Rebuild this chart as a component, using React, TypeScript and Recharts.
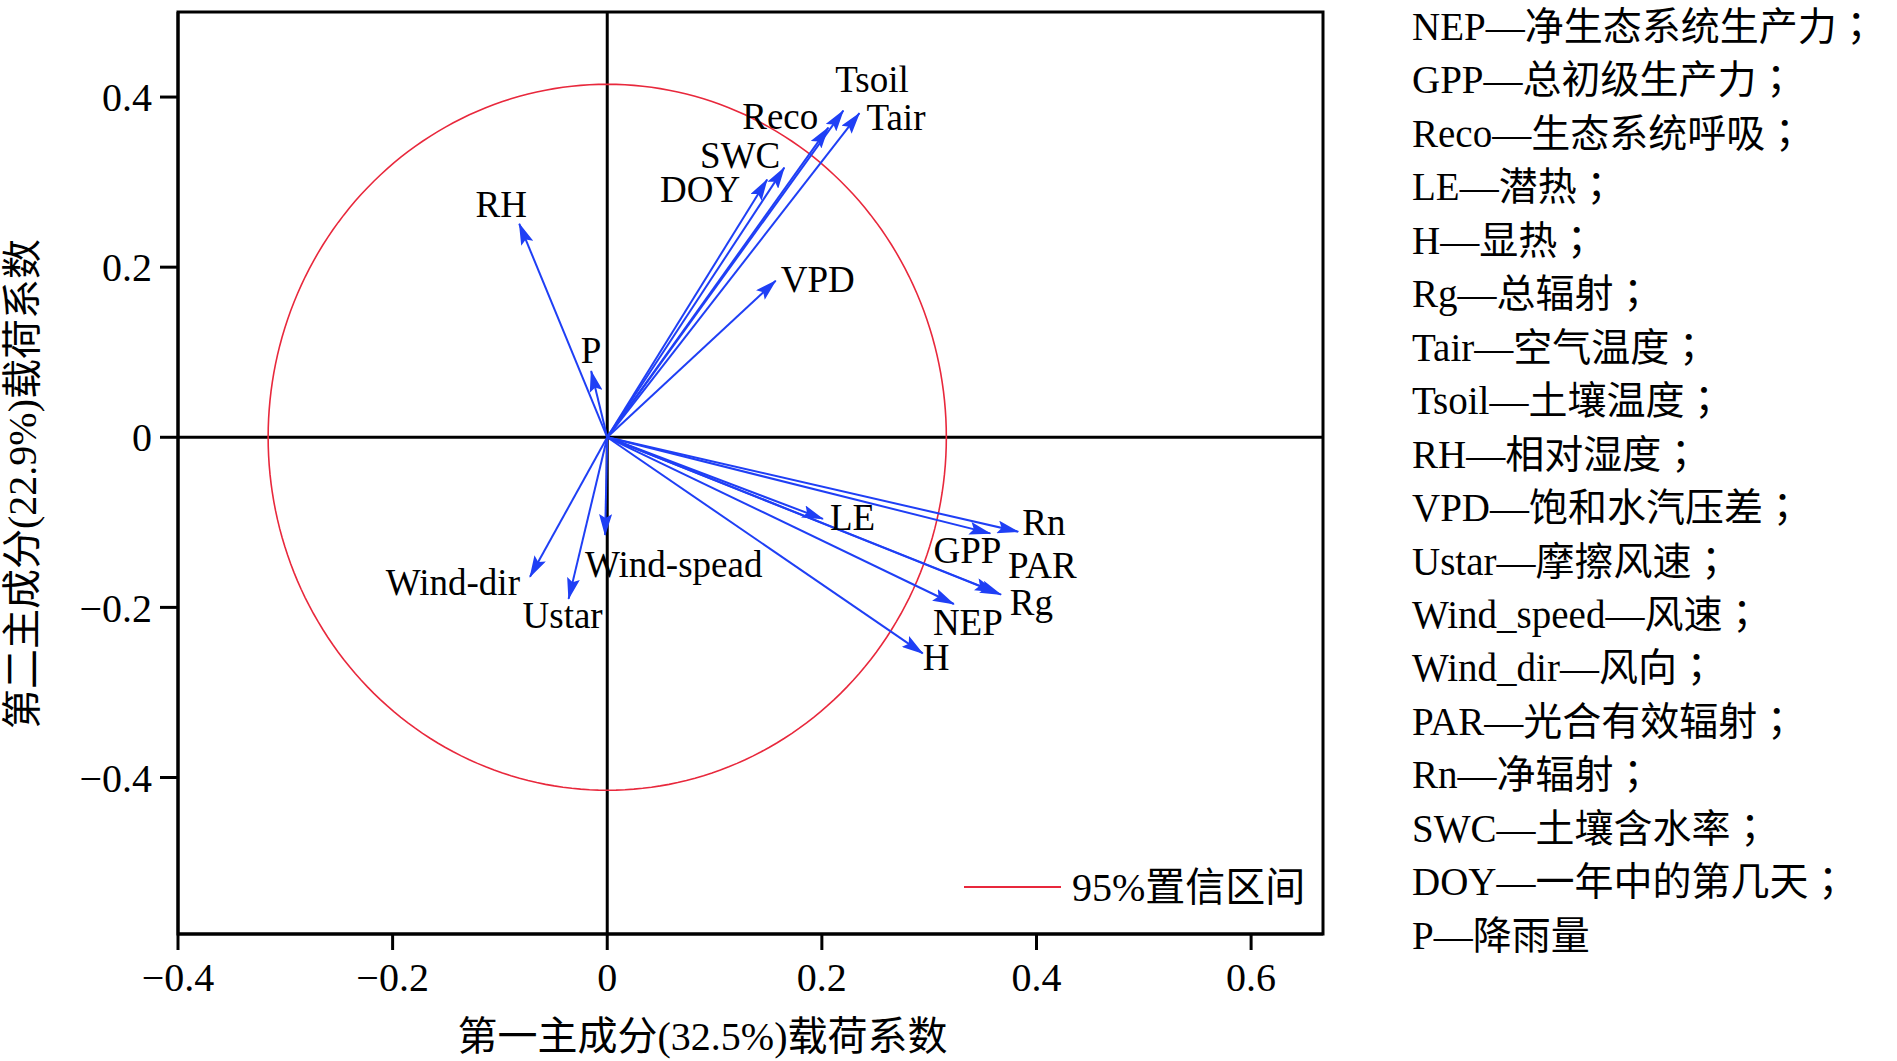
import React from "react";
import {
  ComposedChart,
  Line,
  XAxis,
  YAxis,
  ReferenceLine,
  ReferenceArea,
  Label,
} from "recharts";

// PCA loadings
const variables = [
  "RH", "P", "DOY", "SWC", "Reco", "Tsoil", "Tair", "VPD", "LE",
  "Rn", "GPP", "PAR", "Rg", "NEP", "H", "Wind-dir", "Ustar", "Wind-spead",
];
const pc1Loadings = [
  -0.082, -0.015, 0.149, 0.165, 0.206, 0.22, 0.235, 0.157, 0.201,
  0.383, 0.357, 0.367, 0.362, 0.323, 0.294, -0.072, -0.036, -0.002,
];
const pc2Loadings = [
  0.251, 0.078, 0.303, 0.317, 0.364, 0.384, 0.381, 0.184, -0.096,
  -0.111, -0.113, -0.185, -0.182, -0.196, -0.254, -0.164, -0.19, -0.115,
];

const xTicks = [-0.4, -0.2, 0, 0.2, 0.4, 0.6];
const yTicks = [-0.4, -0.2, 0, 0.2, 0.4];
const xDomain = [-0.4, 0.667];
const yDomain = [-0.584, 0.5];

// 95% confidence ellipse radii (PC1, PC2)
const confidenceRx = 0.316;
const confidenceRy = 0.415;

const xTitle = "第一主成分(32.5%)载荷系数";
const yTitle = "第二主成分(22.9%)载荷系数";
const confidenceName = "95%置信区间";

const notes = [
  "NEP—净生态系统生产力；",
  "GPP—总初级生产力；",
  "Reco—生态系统呼吸；",
  "LE—潜热；",
  "H—显热；",
  "Rg—总辐射；",
  "Tair—空气温度；",
  "Tsoil—土壤温度；",
  "RH—相对湿度；",
  "VPD—饱和水汽压差；",
  "Ustar—摩擦风速；",
  "Wind_speed—风速；",
  "Wind_dir—风向；",
  "PAR—光合有效辐射；",
  "Rn—净辐射；",
  "SWC—土壤含水率；",
  "DOY—一年中的第几天；",
  "P—降雨量",
];

// label placement next to arrow tips: [dx, dy, anchor]
const labelPlace: Record<string, [number, number, string]> = {
  RH: [-18, -7, "middle"],
  P: [0, -8, "middle"],
  DOY: [-27, 22, "end"],
  SWC: [-4, 0, "end"],
  Reco: [-10, 1, "end"],
  Tsoil: [-8, -19, "start"],
  Tair: [7, 17, "start"],
  VPD: [5, 11, "start"],
  LE: [7, 11, "start"],
  Rn: [4, 3, "start"],
  GPP: [11, 30, "end"],
  PAR: [7, -17, "start"],
  Rg: [14, 23, "start"],
  NEP: [14, 31, "middle"],
  H: [0, 17, "start"],
  "Wind-dir": [-10, 18, "end"],
  Ustar: [-6, 29, "middle"],
  "Wind-spead": [-20, 42, "start"],
};

const BLUE = "#1f3ff5";
const RED = "#e8283c";
const FONT = '"Liberation Serif", "Noto Sans CJK SC", serif';

const ellipse = Array.from({ length: 241 }, (_, i) => {
  const t = (i / 240) * Math.PI * 2;
  return { x: confidenceRx * Math.cos(t), y: confidenceRy * Math.sin(t) };
});

const fmt = (v: number) => (v === 0 ? "0" : v.toFixed(1).replace("-", "−"));

// fullwidth semicolon centred like the original typesetting
const renderNote = (t: string) => {
  if (!t.endsWith("；")) return t;
  return (
    <>
      {t.slice(0, -1)}
      <tspan fontFamily='"Noto Sans CJK TC", serif'>；</tspan>
    </>
  );
};

export default function App() {
  return (
    <div style={{ position: "absolute", left: 0, top: 0, width: 1897, height: 1061, background: "#fff" }}>
      <ComposedChart
        width={1897}
        height={1061}
        margin={{ top: 12, right: 574, bottom: 47, left: 78 }}
      >
        <XAxis
          type="number"
          dataKey="x"
          domain={xDomain}
          ticks={xTicks}
          interval={0}
          allowDataOverflow
          tickFormatter={fmt}
          height={80}
          tickSize={16}
          tickMargin={13}
          axisLine={{ stroke: "#000", strokeWidth: 3 }}
          tickLine={{ stroke: "#000", strokeWidth: 3 }}
          tick={{ fill: "#000", fontSize: 40, fontFamily: FONT }}
        >
          <Label
            content={(p: any) => (
              <text
                x={p.viewBox.x + p.viewBox.width / 2 - 48}
                y={1050}
                textAnchor="middle"
                fontSize={40}
                fontFamily={FONT}
                fill="#000"
              >
                {xTitle}
              </text>
            )}
          />
        </XAxis>
        <YAxis
          type="number"
          dataKey="y"
          domain={yDomain}
          ticks={yTicks}
          interval={0}
          allowDataOverflow
          tickFormatter={fmt}
          width={100}
          tickSize={18}
          tickMargin={8}
          axisLine={{ stroke: "#000", strokeWidth: 3 }}
          tickLine={{ stroke: "#000", strokeWidth: 3 }}
          tick={{ fill: "#000", fontSize: 40, fontFamily: FONT }}
        >
          <Label
            content={(p: any) => {
              const cx = 36;
              const cy = p.viewBox.y + p.viewBox.height / 2 + 11;
              return (
                <text
                  x={cx}
                  y={cy}
                  transform={`rotate(-90 ${cx} ${cy})`}
                  textAnchor="middle"
                  fontSize={40}
                  fontFamily={FONT}
                  fill="#000"
                >
                  {yTitle}
                </text>
              );
            }}
          />
        </YAxis>
        <ReferenceArea
          x1={xDomain[0]}
          x2={xDomain[1]}
          y1={yDomain[0]}
          y2={yDomain[1]}
          fill="none"
          stroke="#000"
          strokeWidth={3}
        />
        <ReferenceLine x={0} stroke="#000" strokeWidth={3} />
        <ReferenceLine y={0} stroke="#000" strokeWidth={3} />
        <Line
          data={ellipse}
          dataKey="y"
          type="linear"
          stroke={RED}
          strokeWidth={1.6}
          dot={false}
          activeDot={false}
          isAnimationActive={false}
        />
        {variables.map((name, i) => (
          <Line
            key={name}
            data={[
              { x: 0, y: 0 },
              { x: pc1Loadings[i], y: pc2Loadings[i] },
            ]}
            dataKey="y"
            type="linear"
            stroke={BLUE}
            strokeWidth={2}
            markerEnd="url(#pca-arrow)"
            activeDot={false}
            isAnimationActive={false}
            dot={(p: any) => {
              if (p.index !== 1) return <g key={`${name}-o`} />;
              const [dx, dy, anchor] = labelPlace[name];
              return (
                <text
                  key={`${name}-l`}
                  x={p.cx + dx}
                  y={p.cy + dy}
                  textAnchor={anchor as any}
                  fontSize={37}
                  fontFamily={FONT}
                  fill="#000"
                >
                  {name}
                </text>
              );
            }}
          />
        ))}
      </ComposedChart>
      <svg
        width={1897}
        height={1061}
        style={{ position: "absolute", left: 0, top: 0, pointerEvents: "none" }}
      >
        <defs>
          <marker
            id="pca-arrow"
            viewBox="0 0 22 13"
            refX="21"
            refY="6.5"
            markerWidth="22"
            markerHeight="13"
            markerUnits="userSpaceOnUse"
            orient="auto"
          >
            <path d="M0,0 L22,6.5 L0,13 L4,6.5 Z" fill={BLUE} />
          </marker>
        </defs>
        <line x1={964} y1={887} x2={1061} y2={887} stroke={RED} strokeWidth={2} />
        <text x={1072} y={901} fontSize={40} fontFamily={FONT} fill="#000">
          {confidenceName}
        </text>
        {notes.map((t, i) => (
          <text key={t} x={1412} y={40 + i * 53.45} fontSize={39} fontFamily={FONT} fill="#000">
            {renderNote(t)}
          </text>
        ))}
      </svg>
    </div>
  );
}
